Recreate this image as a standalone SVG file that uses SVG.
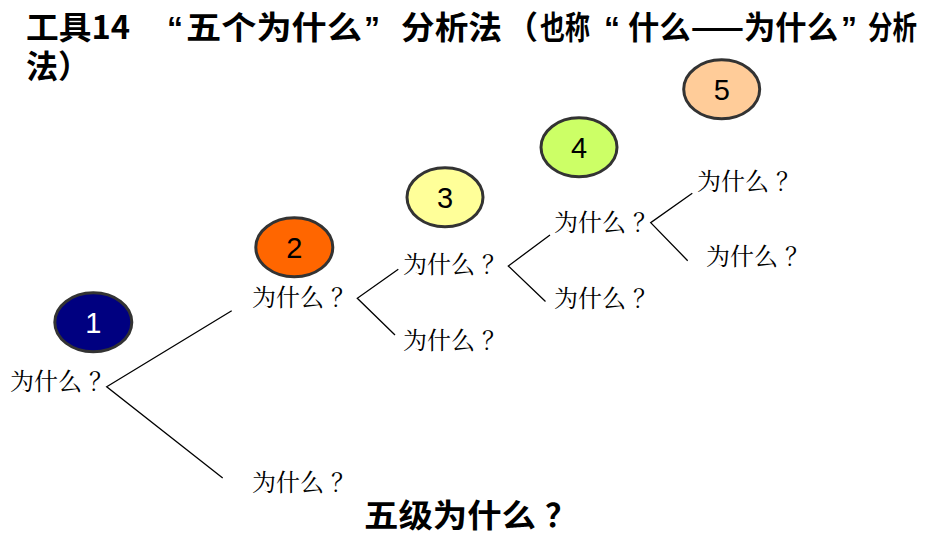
<svg xmlns="http://www.w3.org/2000/svg" width="938" height="543" viewBox="0 0 938 543">
<style>
.t{font-family:"Noto Sans CJK SC","Noto Sans",sans-serif;font-weight:bold;font-size:32px;fill:#000}
.q{font-family:"Liberation Sans",Arial,sans-serif;font-weight:bold;font-size:32px;fill:#000}
.lbl{font-family:"Noto Serif CJK SC","Noto Sans CJK SC",serif;font-size:24px;fill:#000}
.num{font-family:"Liberation Sans",Arial,sans-serif;font-size:29px;text-anchor:middle}
.el{stroke:#333;stroke-width:3}
.ln{stroke:#000;stroke-width:1.3;fill:none}
</style>
<rect width="938" height="543" fill="#fff"/>
<g id="title">
<text class="t" x="26" y="39" textLength="104" lengthAdjust="spacingAndGlyphs">工具14</text>
<text class="q" x="167" y="39">“</text>
<text class="t" x="186" y="39" textLength="176" lengthAdjust="spacingAndGlyphs">五个为什么</text>
<text class="q" x="364" y="39">”</text>
<text class="t" x="401" y="39" textLength="101" lengthAdjust="spacingAndGlyphs">分析法</text>
<text class="t" x="506" y="39">（</text>
<text class="t" x="540" y="39" textLength="50" lengthAdjust="spacingAndGlyphs">也称</text>
<text class="q" x="604" y="39">“</text>
<text class="t" x="628" y="39" textLength="210" lengthAdjust="spacingAndGlyphs">什么——为什么</text>
<text class="q" x="841" y="39">”</text>
<text class="t" x="868" y="39" textLength="49" lengthAdjust="spacingAndGlyphs">分析</text>
<text class="t" x="26" y="78">法）</text>
</g>
<g id="connectors">
<polyline class="ln" points="231.7,310.7 106.7,386.7 222.7,478"/>
<polyline class="ln" points="398.3,269.3 357.3,298.3 395,335"/>
<polyline class="ln" points="550,235 508.3,266 545.5,301.5"/>
<polyline class="ln" points="692.3,193.3 650.7,222.7 687.7,260.7"/>
</g>
<g id="n1">
<ellipse class="el" cx="93.3" cy="322.3" rx="38.5" ry="29.5" fill="#000080"/>
<text class="num" x="93.3" y="333" fill="#fff">1</text>
</g>
<g id="n2">
<ellipse class="el" cx="294.3" cy="247.3" rx="38.5" ry="29.5" fill="#FF6600"/>
<text class="num" x="294.3" y="258" fill="#000">2</text>
</g>
<g id="n3">
<ellipse class="el" cx="445" cy="197.3" rx="38" ry="29.5" fill="#FFFF99"/>
<text class="num" x="445" y="208" fill="#000">3</text>
</g>
<g id="n4">
<ellipse class="el" cx="579" cy="147.3" rx="38" ry="29.5" fill="#CCFF66"/>
<text class="num" x="579" y="158" fill="#000">4</text>
</g>
<g id="n5">
<ellipse class="el" cx="721.7" cy="89.3" rx="38" ry="29.5" fill="#FFCC99"/>
<text class="num" x="721.7" y="100" fill="#000">5</text>
</g>
<g id="labels">
<text class="lbl" x="10" y="390">为什么<tspan dx="7">？</tspan></text>
<text class="lbl" x="252" y="306">为什么<tspan dx="7">？</tspan></text>
<text class="lbl" x="252" y="491">为什么<tspan dx="7">？</tspan></text>
<text class="lbl" x="403" y="273">为什么<tspan dx="7">？</tspan></text>
<text class="lbl" x="403" y="349">为什么<tspan dx="7">？</tspan></text>
<text class="lbl" x="554" y="231">为什么<tspan dx="7">？</tspan></text>
<text class="lbl" x="554" y="307">为什么<tspan dx="7">？</tspan></text>
<text class="lbl" x="697" y="190">为什么<tspan dx="7">？</tspan></text>
<text class="lbl" x="706" y="265">为什么<tspan dx="7">？</tspan></text>
</g>
<g id="caption">
<text class="t" x="364" y="527" textLength="172" lengthAdjust="spacingAndGlyphs">五级为什么</text>
<text class="t" x="545" y="527">？</text>
</g>
</svg>
